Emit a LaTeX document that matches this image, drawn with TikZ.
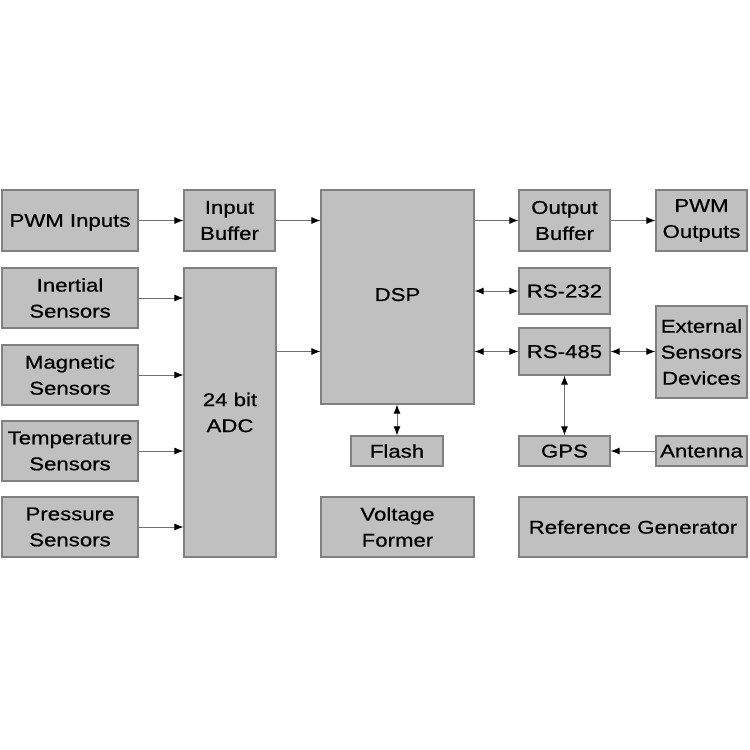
\documentclass[tikz,border=0pt]{standalone}
\usepackage{fontspec}
\setmainfont{Liberation Sans}[FakeStretch=1.2, FakeBold=0.6]
\usepackage{tikz}
\usetikzlibrary{arrows.meta, positioning, calc}
\usepackage{xcolor}
\definecolor{boxfill}{HTML}{C0C0C0}
\definecolor{boxline}{HTML}{808080}
\definecolor{linkline}{HTML}{707070}
\tikzset{
  block/.style={rectangle, draw=boxline, fill=boxfill, line width=1.2pt,
                inner sep=0pt, align=center,
                font=\fontsize{18.5}{26}\selectfont},
  oneline/.style={block, text depth=0pt},
  link/.style={draw=linkline, line width=0.9pt,
               -{Latex[length=9pt, width=7pt, color=black]}},
  duplex/.style={draw=linkline, line width=0.9pt,
               {Latex[length=9pt, width=7pt, color=black]}-{Latex[length=9pt, width=7pt, color=black]}},
}

\begin{document}
\begin{tikzpicture}[x=1pt, y=-1pt]
    \useasboundingbox (0,0) rectangle (750,750);
    % Top row
    \node[oneline, minimum width=136, minimum height=61] (pwmin)  at (70,220.5)    {PWM Inputs};
    \node[block,   minimum width=91,  minimum height=61] (inbuf)  at (229.5,220.5) {Input\\Buffer};
    \node[oneline, minimum width=153, minimum height=214] (dsp)   at (397.5,297)   {\raisebox{5pt}{DSP}};
    \node[block,   minimum width=91,  minimum height=61] (outbuf) at (564.5,220.5) {Output\\Buffer};
    \node[block,   minimum width=91,  minimum height=61] (pwmout) at (701.5,220.5) {PWM\\Outputs};
    % Sensors and converter
    \node[block, minimum width=136, minimum height=60] (inertial) at (70,298) {Inertial\\Sensors};
    \node[block, minimum width=136, minimum height=60] (magnetic) at (70,375) {Magnetic\\Sensors};
    \node[block, minimum width=136, minimum height=60] (temp)     at (70,451) {Temperature\\Sensors};
    \node[block, minimum width=136, minimum height=60] (pressure) at (70,527) {Pressure\\Sensors};
    \node[block, minimum width=92,  minimum height=289] (adc)     at (230,412.5) {24 bit\\ADC};
    % Interfaces
    \node[oneline, minimum width=91, minimum height=46] (rs232)   at (564.5,291)   {RS-232};
    \node[oneline, minimum width=91, minimum height=47] (rs485)   at (564.5,351.5) {RS-485};
    \node[block,   minimum width=91, minimum height=92] (extsens) at (701.5,352)   {External\\Sensors\\Devices};
    \node[oneline, minimum width=92, minimum height=30] (flash)   at (397,451)     {Flash};
    \node[oneline, minimum width=91, minimum height=30] (gps)     at (564.5,451)   {GPS};
    \node[oneline, minimum width=91, minimum height=30] (antenna) at (701.5,451)   {Antenna};
    % Bottom row
    \node[block,   minimum width=153, minimum height=60] (volt)   at (397.5,527) {Voltage\\Former};
    \node[oneline, minimum width=228, minimum height=60] (refgen) at (633,527)   {Reference Generator};
    % Signal path
    \draw[link] (pwmin) -- (inbuf);
    \draw[link] (inbuf) -- (dsp.west |- inbuf);
    \draw[link] (dsp.east |- outbuf) -- (outbuf);
    \draw[link] (outbuf) -- (pwmout);
    \foreach \s in {inertial, magnetic, temp, pressure}
      \draw[link] (\s) -- (\s -| adc.west);
    \draw[link] (adc.east |- rs485) -- (dsp.west |- rs485);
    % Bidirectional links
    \draw[duplex] (dsp.east |- rs232) -- (rs232);
    \draw[duplex] (dsp.east |- rs485) -- (rs485);
    \draw[duplex] (rs485) -- (rs485 -| extsens.west);
    \draw[duplex] (rs485) -- (gps);
    \draw[duplex] (flash.north |- dsp.south) -- (flash);
    \draw[link] (antenna) -- (gps);
  \end{tikzpicture}
\end{document}
